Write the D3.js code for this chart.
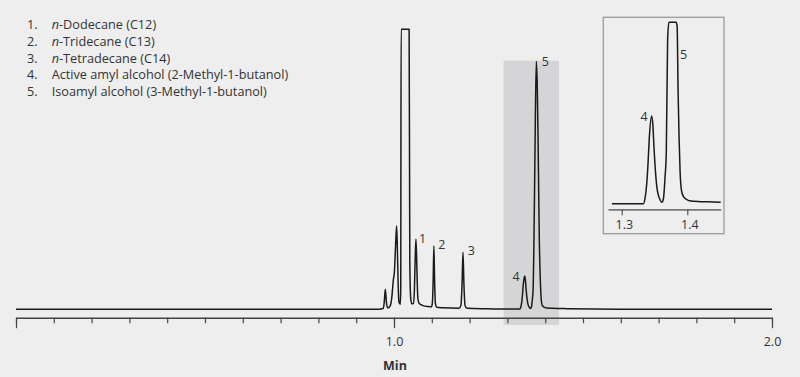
<!DOCTYPE html>
<html><head><meta charset="utf-8">
<script src="https://cdn.jsdelivr.net/npm/d3@7"></script>
<style>
body{margin:0;background:#eeeeee}
svg{display:block}
text{font-family:"Open Sans",sans-serif;fill:#333}
</style>
</head><body><svg id="c" width="800" height="377"></svg>
<script>
// ---- data ----
const legendNums = ["1.", "2.", "3.", "4.", "5."];
const legendItalic = ["n", "n", "n", "", ""];
const legendNames = ["-Dodecane (C12)", "-Tridecane (C13)", "-Tetradecane (C14)",
  "Active amyl alcohol (2-Methyl-1-butanol)", "Isoamyl alcohol (3-Methyl-1-butanol)"];

// chromatogram trace: retention time (min), signal (a.u.)
const traceTime = [0.000, 0.960, 0.971, 0.974, 0.977, 0.980, 0.983, 0.987, 0.991, 0.995, 0.998, 1.001,
  1.004, 1.007, 1.009, 1.011, 1.013, 1.0165, 1.0178, 1.0188, 1.030, 1.040, 1.0418, 1.044, 1.047,
  1.0515, 1.054, 1.056, 1.058, 1.060, 1.062, 1.064, 1.067, 1.075, 1.090, 1.099, 1.1015, 1.1035,
  1.1055, 1.1075, 1.1095, 1.113, 1.130, 1.172, 1.177, 1.180, 1.1825, 1.185, 1.188, 1.193, 1.250,
  1.285, 1.333, 1.3355, 1.338, 1.340, 1.342, 1.3455, 1.3475, 1.349, 1.3518, 1.354, 1.3558, 1.358,
  1.361, 1.3635, 1.366, 1.368, 1.370, 1.372, 1.374, 1.3765, 1.379, 1.381, 1.383, 1.3845, 1.386,
  1.3875, 1.389, 1.391, 1.394, 1.398, 1.405, 1.420, 1.440, 1.451, 1.460, 1.600, 2.000];
const traceSignal = [0, 0, 0.3, 2.5, 8.1, 2.8, 0.6, 0.8, 1.8, 6, 11.5, 15,
  25, 33.7, 24, 10, 3, 2, 8, 150, 400, 150, 20, 5, 2.2,
  2.4, 8, 20, 28.3, 20, 8, 3.5, 2.3, 1.6, 1.1, 1.0, 2.5, 11,
  25.6, 11, 2.5, 0.8, 0.6, 0.4, 1.5, 10, 23, 10, 1.5, 0.4, 0.2,
  0.1, 0.1, 0.9, 3, 6, 10, 13.4, 12, 9, 4.5, 2.3, 1.4, 0.8,
  0.3, 0.8, 4, 8, 25, 50, 78, 100, 90, 70, 45, 27, 17,
  10, 5, 2.2, 1.2, 0.8, 0.5, 0.4, 0.35, 0.3, 0.2, 0.05, 0];

const peakLabels = ["1", "2", "3", "4", "5"];
const peakTimes = [1.058, 1.1055, 1.1825, 1.3455, 1.3765];
const peakHeights = [28.3, 25.6, 23.0, 13.4, 100];

const xTicksMinor = d3.range(0, 21).map(i => i / 10);
const xTicksMajor = [0, 1.0, 2.0];
const xTickLabels = ["", "1.0", "2.0"];
const insetTicks = [1.3, 1.4];
const insetTickLabels = ["1.3", "1.4"];
const highlightRange = [1.29, 1.4365];
const insetRange = [1.279, 1.451];
const insetTraceRange = [1.285, 1.451];

// ---- drawing ----
const trace = traceTime.map((t, i) => ({t, s: traceSignal[i]}));
const svg = d3.select("#c");
svg.append("rect").attr("width", 800).attr("height", 377).attr("fill", "#eeeeee");

const x = d3.scaleLinear().domain([0, 2.0]).range([16, 772]);
const y = d3.scaleLinear().domain([0, 112.9]).range([309.3, 29.3]).clamp(true);

// highlight band
svg.append("rect")
  .attr("x", x(highlightRange[0])).attr("y", 60.7)
  .attr("width", x(highlightRange[1]) - x(highlightRange[0])).attr("height", 325 - 60.7)
  .attr("fill", "#d5d5d7");

// axes
const axisY = 317.7;
const gMinor = svg.append("g").attr("transform", `translate(0,${axisY})`)
  .call(d3.axisBottom(x).tickValues(xTicksMinor).tickSize(5.5).tickFormat(""));
gMinor.select(".domain").remove();
const gMajor = svg.append("g").attr("transform", `translate(0,${axisY})`)
  .call(d3.axisBottom(x).tickValues(xTicksMajor).tickSize(10.5).tickSizeOuter(0).tickPadding(9)
    .tickFormat((d, i) => xTickLabels[i]));
[gMinor, gMajor].forEach(g => {
  g.selectAll("line").attr("stroke", "#444").attr("stroke-width", 1.2);
  g.select(".domain").attr("stroke", "#444").attr("stroke-width", 1.4);
  g.selectAll("text").attr("font-size", 12.5).attr("fill", "#333")
    .attr("font-family", '"Open Sans",sans-serif');
});
svg.append("text").attr("x", x(1.0) + 1).attr("y", 370).attr("text-anchor", "middle")
  .attr("font-size", 12.5).attr("font-weight", "bold").text("Min");

// main trace
const line = d3.line().x(d => x(d.t)).y(d => y(d.s)).curve(d3.curveMonotoneX);
svg.append("path").datum(trace).attr("d", line)
  .attr("fill", "none").attr("stroke", "#1a1a1a").attr("stroke-width", 1.5)
  .attr("stroke-linejoin", "round");

// peak labels
const labOff = [[3, 4.3], [4.3, 3.6], [4.7, 2.7], [-5, 5], [5.4, 5]];
svg.append("g").selectAll("text").data(peakLabels).join("text")
  .attr("x", (d, i) => x(peakTimes[i]) + labOff[i][0])
  .attr("y", (d, i) => y(peakHeights[i]) + labOff[i][1])
  .attr("text-anchor", (d, i) => labOff[i][0] < 0 ? "end" : "start")
  .attr("font-size", 12.5).text(d => d);

// legend
const leg = svg.append("g");
legendNums.forEach((n, i) => {
  const yy = 29.3 + i * 16.7;
  leg.append("text").attr("x", 27).attr("y", yy).attr("font-size", 12.7).text(n);
  const t = leg.append("text").attr("x", 51.7).attr("y", yy).attr("font-size", 12.7);
  if (legendItalic[i]) t.append("tspan").attr("font-style", "italic").text(legendItalic[i]);
  t.append("tspan").text(legendNames[i]);
});

// inset
svg.append("rect").attr("x", 603.3).attr("y", 17.3).attr("width", 724 - 603.3).attr("height", 233.7 - 17.3)
  .attr("fill", "#eeeeee").attr("stroke", "#9b9b9b").attr("stroke-width", 1.3);
const xi = d3.scaleLinear().domain(insetRange).range([608, 720.7]);
const yi = d3.scaleLinear().domain([0, 27.6]).range([204.3, 22.3]).clamp(true);
const gi = svg.append("g").attr("transform", "translate(0,209.3)")
  .call(d3.axisBottom(xi).tickValues(insetTicks).tickSize(6).tickSizeOuter(0).tickPadding(5)
    .tickFormat((d, i) => insetTickLabels[i]));
gi.select(".domain").attr("stroke", "#777").attr("stroke-width", 1.8);
gi.selectAll("line").attr("stroke", "#555").attr("stroke-width", 1.2);
gi.selectAll("text").attr("font-size", 12.5).attr("fill", "#333").attr("dx", 2)
  .attr("font-family", '"Open Sans",sans-serif');
const lineI = d3.line().x(d => xi(d.t)).y(d => yi(d.s)).curve(d3.curveMonotoneX);
svg.append("path").datum(trace.filter(d => d.t >= insetTraceRange[0] && d.t <= insetTraceRange[1]))
  .attr("d", lineI).attr("fill", "none").attr("stroke", "#1a1a1a").attr("stroke-width", 1.5)
  .attr("stroke-linejoin", "round");
svg.append("text").attr("x", xi(peakTimes[3]) - 4).attr("y", yi(peakHeights[3]) + 5)
  .attr("text-anchor", "end").attr("font-size", 12.5).text(peakLabels[3]);
svg.append("text").attr("x", xi(peakTimes[4]) + 8).attr("y", yi.range()[1] + 37)
  .attr("text-anchor", "start").attr("font-size", 12.5).text(peakLabels[4]);
</script>
</body></html>
